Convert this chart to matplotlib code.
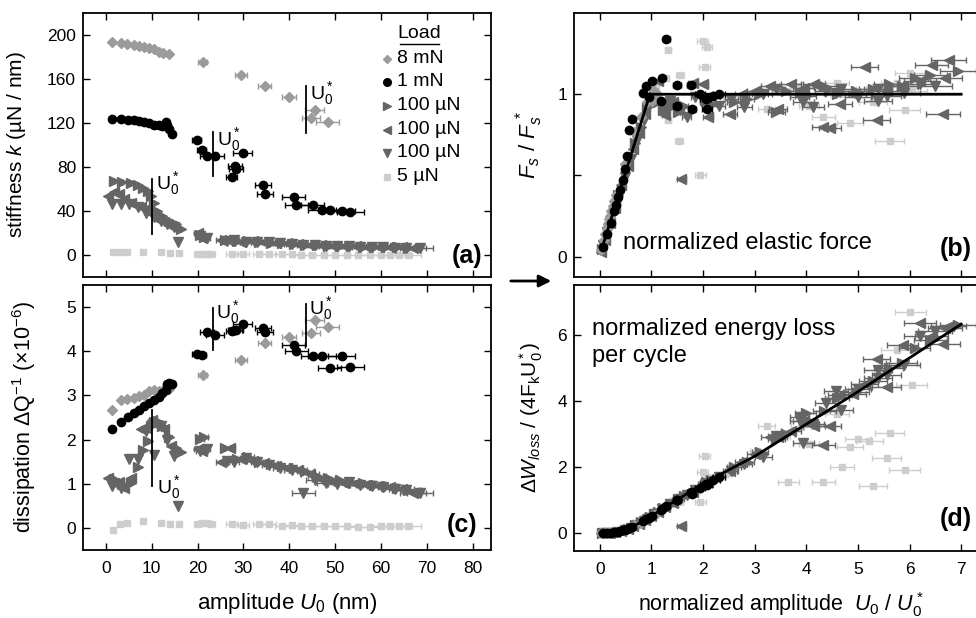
import matplotlib
matplotlib.use("Agg")
import matplotlib.pyplot as plt

plt.rcParams['font.family'] = ['Liberation Sans', 'DejaVu Sans']
plt.rcParams['mathtext.fontset'] = 'custom'
plt.rcParams['mathtext.rm'] = 'Liberation Sans'
plt.rcParams['mathtext.it'] = 'Liberation Sans:italic'
plt.rcParams['mathtext.bf'] = 'Liberation Sans:bold'

# ---------------- data: panels (a) and (c), amplitude U0 in nm ----------------
amp_8 = [1.3, 3.3, 4.7, 6.2, 7.2, 8.3, 9.4, 10.5, 11.6, 12.5, 13.8, 21.1, 29.5, 34.6, 40.0, 45.5, 44.7, 48.4]
k_8 = [193.7, 192.4, 191.8, 191.0, 190.3, 189.4, 188.5, 187.0, 184.9, 184.0, 182.5, 175.3, 163.2, 153.2, 143.3, 132.1, 124.3, 121.3]
q_8 = [2.66, 2.89, 2.91, 2.95, 2.98, 3.02, 3.10, 3.12, 3.10, 3.12, 3.15, 3.46, 3.81, 4.19, 4.33, 4.70, 4.42, 4.55]
e_8 = [0] * 11 + [1.0, 1.3, 1.5, 1.5, 2.0, 2.0, 2.5]

amp_1 = [1.3, 3.3, 4.8, 6.2, 7.2, 8.3, 9.4, 10.5, 11.5, 12.3, 13.0, 13.3, 13.8, 14.4, 19.8, 20.9, 22.1, 23.8, 29.8, 28.2,
         28.3, 27.5, 34.3, 34.7, 41.0, 41.5, 45.1, 47.1, 48.8, 51.4, 53.3]
k_1 = [123.7, 123.7, 123.0, 122.3, 121.5, 120.6, 119.7, 118.5, 118.0, 117.5, 121.0, 118.0, 114.3, 109.8, 104.3, 95.3,
       89.9, 89.9, 92.3, 80.8, 78.3, 71.2, 63.4, 55.2, 53.1, 45.3, 45.5, 40.7, 41.0, 40.4, 39.2]
q_1 = [2.23, 2.40, 2.52, 2.60, 2.67, 2.75, 2.83, 2.90, 2.97, 3.05, 3.12, 3.26, 3.27, 3.25, 3.93, 3.91, 4.43, 4.37, 4.61,
       4.47, 4.49, 4.45, 4.52, 4.43, 4.15, 4.01, 3.90, 3.90, 3.62, 3.89, 3.65]
e_1 = [0] * 14 + [1.0, 1.0, 1.5, 2.0, 2.0, 1.5, 1.5, 1.2, 1.8, 1.8, 2.5, 2.5, 2.5, 3.0, 2.5, 3.0, 3.0]

amp_R = [1.7, 3.6, 5.4, 6.9, 8.0, 9.1, 9.8, 10.5, 11.2, 12.3, 13.8, 15.2, 16.3, 20.5, 21.5, 26.0, 28.5, 31.0, 33.5, 36.0,
         38.5, 41.0, 43.5, 46.0, 48.5, 51.0, 53.5, 56.0, 58.5, 61.0, 63.5, 66.0]
k_R = [67.2, 66.7, 65.8, 63.3, 61.2, 58.2, 53.7, 47.7, 40.1, 35.6, 31.0, 28.0, 23.5, 18.0, 16.0, 13.5, 13.0, 12.5, 12.0,
       11.0, 10.5, 10.0, 9.5, 9.0, 8.5, 8.0, 8.0, 7.5, 7.5, 7.0, 7.0, 6.5]
q_R = [1.10, 1.00, 1.02, 1.39, 1.77, 1.96, 2.30, 2.40, 2.42, 2.30, 2.05, 1.80, 1.72, 2.02, 2.05, 1.80, 1.55, 1.60, 1.50,
       1.45, 1.40, 1.35, 1.28, 1.18, 1.12, 1.08, 1.05, 1.02, 0.98, 0.95, 0.90, 0.85]
e_R = [0] * 13 + [0.8, 0.8, 1.0, 1.2, 1.3, 1.4, 1.5, 1.6, 1.8, 1.8, 2.0, 2.0, 2.2, 2.2, 2.4, 2.4, 2.6, 2.6, 2.8]

amp_L = [0.4, 1.8, 2.9, 4.0, 5.4, 7.6, 8.7, 10.1, 11.2, 12.7, 14.1, 20.0, 21.0, 25.0, 27.0, 29.5, 32.0, 34.5, 37.0, 39.5,
         42.0, 44.5, 47.0, 49.5, 52.0, 54.5, 57.0, 59.5, 62.0, 64.5, 67.0]
k_L = [53.7, 57.3, 55.2, 50.7, 47.7, 43.2, 41.6, 37.0, 32.6, 29.6, 26.5, 20.0, 15.0, 14.0, 13.0, 12.0, 12.5, 11.5, 11.0,
       10.5, 10.0, 9.5, 9.0, 8.5, 8.5, 8.0, 7.5, 7.5, 7.0, 7.0, 6.0]
q_L = [1.13, 1.02, 1.05, 0.90, 1.13, 2.23, 2.26, 2.45, 2.34, 2.23, 1.85, 1.78, 1.75, 1.50, 1.80, 1.55, 1.52, 1.48, 1.40,
       1.35, 1.30, 1.22, 1.10, 1.05, 1.02, 1.00, 0.98, 0.95, 0.92, 0.88, 0.80]
e_L = [0] * 11 + [0.8, 0.8, 1.0, 1.1, 1.2, 1.3, 1.4, 1.5, 1.6, 1.8, 1.9, 2.0, 2.1, 2.2, 2.3, 2.4, 2.5, 2.6, 2.7, 2.8]

amp_D = [1.4, 3.3, 5.1, 6.9, 8.7, 10.5, 12.0, 13.4, 14.8, 15.8, 20.5, 22.0, 26.5, 28.0, 30.5, 33.0, 35.5, 38.0, 40.5,
         43.0, 45.5, 48.0, 50.5, 53.0, 55.5, 58.0, 60.5, 63.0, 65.5, 68.5]
k_D = [46.0, 46.0, 46.0, 43.2, 38.6, 34.1, 31.0, 28.0, 25.0, 12.0, 17.0, 15.0, 13.0, 13.5, 12.0, 12.0, 11.5, 10.5, 10.0,
       9.5, 9.0, 8.5, 8.5, 8.0, 7.5, 7.5, 7.0, 6.5, 6.5, 6.0]
q_D = [0.94, 0.90, 1.57, 1.55, 2.20, 1.64, 2.30, 2.00, 1.62, 0.50, 1.75, 1.78, 1.52, 1.50, 1.58, 1.50, 1.42, 1.35, 1.30,
       0.80, 1.08, 1.02, 1.00, 1.03, 0.98, 0.95, 0.92, 0.88, 0.85, 0.78]
e_D = [0] * 10 + [0.8, 0.8, 1.0, 1.1, 1.2, 1.3, 1.4, 1.5, 1.6, 2.5, 1.9, 2.0, 2.1, 2.2, 2.3, 2.4, 2.5, 2.6, 2.7, 2.9]

amp_5 = [1.5, 3.0, 4.5, 8.0, 12.0, 14.0, 16.0, 20.0, 21.0, 22.0, 23.0, 27.5, 30.0, 33.5, 35.5, 38.5, 40.5, 42.5, 45.0,
         47.5, 50.0, 52.5, 55.0, 57.5, 60.0, 62.0, 64.0, 66.0]
k_5 = [3.0, 3.0, 3.0, 2.5, 2.5, 2.0, 2.0, 1.0, 1.0, 1.0, 1.0, 0.8, 0.8, 0.8, 0.5, 0.5, 0.5, 0.4, 0.4, 0.3, 0.3, 0.3,
       0.3, 0.3, 0.3, 0.3, 0.3, 0.3]
q_5 = [-0.05, 0.10, 0.12, 0.15, 0.12, 0.10, 0.08, 0.10, 0.12, 0.11, 0.10, 0.08, 0.07, 0.08, 0.08, 0.05, 0.06, 0.05,
       0.05, 0.04, 0.04, 0.04, 0.03, 0.03, 0.04, 0.04, 0.05, 0.05]
e_5 = [0] * 7 + [0.8, 0.8, 0.8, 0.8, 1.2, 1.2, 1.4, 1.5, 1.6, 1.7, 1.8, 1.9, 2.0, 2.1, 2.2, 2.3, 2.4, 2.5, 2.6, 2.7, 2.8]

# U0* markers: (x, y_low, y_high) and label positions
ustar_a = [(10.0, 19, 69), (23.3, 72, 112), (43.7, 111, 154)]
ustar_a_lab = [(11.0, 60), (24.3, 100), (44.6, 142)]
ustar_c = [(10.0, 0.94, 2.68), (23.3, 4.03, 4.97), (43.7, 4.12, 5.08)]
ustar_c_lab = [(11.2, 0.78), (24.0, 4.75), (44.4, 4.85)]

# ---------------- data: panels (b) and (d), normalized amplitude ----------------
u8 = [0.03, 0.08, 0.11, 0.13, 0.16, 0.18, 0.20, 0.22, 0.25, 0.27, 0.31, 0.48, 0.67, 0.79, 0.92, 1.04, 1.02, 1.11]
F8 = [0.04, 0.10, 0.14, 0.17, 0.20, 0.23, 0.25, 0.28, 0.31, 0.34, 0.38, 0.57, 0.77, 0.86, 0.95, 1.02, 0.96, 1.00]
W8 = [0.00, 0.00, 0.00, 0.01, 0.01, 0.01, 0.02, 0.02, 0.03, 0.03, 0.04, 0.10, 0.24, 0.33, 0.45, 0.56, 0.53, 0.63]
eu8 = [0] * 11 + [0.02, 0.03, 0.03, 0.04, 0.05, 0.05, 0.06]

u1 = [0.06, 0.14, 0.21, 0.27, 0.31, 0.36, 0.40, 0.45, 0.49, 0.53, 0.57, 0.62, 0.84, 0.90, 0.95, 1.02, 1.18, 1.21, 1.29,
      1.50, 1.50, 1.77, 1.78, 1.94, 2.05, 2.07, 2.20, 2.31]
F1 = [0.06, 0.14, 0.21, 0.28, 0.32, 0.37, 0.41, 0.47, 0.54, 0.62, 0.78, 0.85, 1.01, 1.05, 0.98, 1.08, 0.96, 1.10, 1.34,
      1.055, 0.93, 1.055, 0.91, 1.00, 0.97, 0.91, 0.99, 1.00]
W1 = [0.00, 0.01, 0.02, 0.03, 0.04, 0.05, 0.07, 0.09, 0.11, 0.13, 0.16, 0.20, 0.38, 0.44, 0.48, 0.54, 0.72, 0.74, 0.82,
      1.02, 1.00, 1.25, 1.20, 1.38, 1.50, 1.45, 1.60, 1.70]
eu1 = [0.02] * 12 + [0.04, 0.04, 0.05, 0.05, 0.06, 0.06, 0.06, 0.08, 0.08, 0.08, 0.08, 0.1, 0.1, 0.1, 0.12, 0.12]

uR = [0.04, 0.17, 0.36, 0.54, 0.69, 0.80, 0.91, 0.98, 1.05, 1.12, 1.23, 1.38, 1.52, 1.63, 2.05, 2.15, 2.60, 2.85, 3.10,
      3.42, 3.60, 3.99, 4.35, 4.60, 4.97, 5.30, 5.60, 5.85, 6.10, 6.40, 6.94]
FR = [0.05, 0.18, 0.38, 0.55, 0.70, 0.80, 0.92, 0.97, 1.02, 0.95, 0.90, 0.92, 0.89, 0.93, 0.96, 0.94, 0.95, 0.97, 1.00,
      0.89, 1.02, 0.99, 1.05, 1.00, 1.02, 1.03, 1.06, 1.05, 1.10, 1.12, 1.14]
WR = [0.00, 0.01, 0.05, 0.14, 0.25, 0.34, 0.44, 0.50, 0.58, 0.66, 0.78, 0.90, 1.05, 1.12, 1.55, 1.62, 2.00, 2.17, 2.45,
      2.85, 3.00, 3.63, 3.70, 4.10, 4.28, 4.60, 5.00, 5.15, 5.60, 5.85, 6.28]
euR = [0] * 8 + [0.05, 0.05, 0.06, 0.07, 0.08, 0.08, 0.1, 0.1, 0.13, 0.14, 0.16, 0.17, 0.18, 0.2, 0.22, 0.23, 0.25,
                 0.27, 0.28, 0.3, 0.3, 0.32, 0.35]

uL = [0.03, 0.10, 0.20, 0.30, 0.42, 0.55, 0.65, 0.76, 0.87, 1.00, 1.12, 1.26, 1.41, 1.58, 1.80, 2.00, 2.10, 2.52, 2.75,
      3.00, 3.30, 3.45, 3.70, 3.95, 4.15, 4.33, 4.46, 4.65, 4.90, 5.13, 5.36, 5.56, 5.87, 6.20, 6.43, 6.64, 6.69, 6.76]
FL = [0.03, 0.10, 0.21, 0.30, 0.44, 0.56, 0.66, 0.76, 0.88, 0.97, 1.08, 0.87, 0.95, 0.48, 1.07, 1.06, 0.86, 0.88, 1.00,
      1.02, 1.05, 0.91, 1.06, 1.04, 1.06, 0.80, 0.79, 0.94, 1.00, 1.17, 0.84, 1.02, 1.05, 1.08, 1.18, 0.88, 1.10, 1.21]
WL = [0.00, 0.00, 0.02, 0.04, 0.08, 0.14, 0.22, 0.30, 0.40, 0.52, 0.66, 0.80, 0.92, 0.22, 1.25, 1.48, 1.55, 1.90, 2.15,
      2.40, 2.92, 2.90, 3.10, 3.40, 3.23, 2.67, 3.23, 4.18, 4.20, 4.50, 5.26, 4.43, 5.69, 6.35, 5.95, 5.73, 6.20, 6.25]
euL = [0] * 9 + [0.05, 0.05, 0.06, 0.07, 0.08, 0.09, 0.1, 0.1, 0.13, 0.14, 0.15, 0.17, 0.17, 0.19, 0.2, 0.21, 0.22,
                 0.22, 0.23, 0.25, 0.26, 0.27, 0.28, 0.3, 0.31, 0.32, 0.33, 0.33, 0.34]

uD = [0.06, 0.14, 0.25, 0.33, 0.48, 0.60, 0.72, 0.85, 0.95, 1.05, 1.20, 1.35, 1.55, 1.68, 1.85, 2.05, 2.30, 2.55, 2.80,
      3.17, 3.42, 3.87, 3.87, 3.94, 4.13, 4.39, 4.58, 4.68, 5.00, 5.39, 5.39, 5.56, 5.90, 6.20, 6.50]
FD = [0.07, 0.15, 0.26, 0.33, 0.49, 0.60, 0.72, 0.84, 0.93, 0.98, 0.92, 0.96, 0.90, 0.86, 0.98, 0.95, 0.93, 0.97, 0.92,
      1.00, 1.03, 1.00, 0.98, 0.95, 0.92, 1.02, 1.01, 1.03, 0.98, 0.96, 1.03, 0.99, 1.01, 1.06, 1.05]
WD = [0.00, 0.01, 0.02, 0.04, 0.10, 0.17, 0.26, 0.38, 0.48, 0.58, 0.74, 0.88, 1.05, 1.15, 1.32, 1.50, 1.70, 1.90, 2.10,
      2.32, 2.94, 3.38, 3.53, 2.74, 3.30, 3.95, 4.30, 3.73, 4.35, 4.94, 4.69, 4.79, 5.10, 5.95, 6.10]
euD = [0] * 9 + [0.05, 0.06, 0.07, 0.08, 0.08, 0.09, 0.1, 0.12, 0.13, 0.14, 0.16, 0.17, 0.19, 0.19, 0.2, 0.21, 0.22,
                 0.23, 0.23, 0.25, 0.27, 0.27, 0.28, 0.3, 0.31, 0.33]

u5 = [0.14, 0.27, 0.41, 0.73, 1.09, 1.28, 1.32, 1.32, 1.45, 1.55, 1.54, 1.95, 1.99, 2.03, 2.07, 2.45, 2.75, 3.05, 3.23,
      3.50, 3.65, 3.90, 4.05, 4.33, 4.60, 4.69, 4.85, 5.00, 5.22, 5.29, 5.56, 5.62, 5.75, 5.91, 6.01, 6.04]
F5 = [0.16, 0.30, 0.44, 0.75, 1.05, 1.10, 1.27, 0.84, 0.95, 1.12, 0.71, 0.50, 1.33, 1.17, 1.29, 0.98, 0.99, 1.01, 0.91,
      1.03, 1.02, 1.05, 0.93, 0.86, 1.07, 1.00, 0.82, 1.02, 1.03, 0.95, 1.05, 0.71, 1.07, 0.90, 1.13, 1.02]
W5 = [0.01, 0.03, 0.06, 0.30, 0.65, 0.80, 0.95, 0.90, 1.00, 1.10, 0.95, 0.95, 1.85, 2.35, 1.70, 1.80, 2.10, 2.50, 3.23,
      2.90, 1.56, 3.20, 2.70, 1.54, 3.60, 2.02, 2.62, 2.84, 2.80, 1.43, 2.29, 3.04, 5.55, 1.93, 6.70, 4.47]
eu5 = [0, 0, 0, 0.03, 0.05, 0.06, 0.06, 0.06, 0.07, 0.08, 0.08, 0.1, 0.1, 0.1, 0.1, 0.12, 0.14, 0.15, 0.16, 0.18, 0.2,
       0.2, 0.2, 0.22, 0.23, 0.23, 0.25, 0.25, 0.26, 0.27, 0.28, 0.28, 0.3, 0.3, 0.3, 0.3]

model_b_u = [0.04, 0.97, 7.0]
model_b_F = [0.05, 1.0, 1.0]
model_d_u = [0.0, 0.25, 0.5, 0.75, 1.0, 1.25, 1.5, 2.0, 2.5, 3.0, 4.0, 5.0, 6.0, 7.0]
model_d_W = [0.0, 0.02, 0.12, 0.30, 0.52, 0.78, 1.02, 1.50, 1.92, 2.33, 3.30, 4.28, 5.30, 6.32]

legend_labels = ['8 mN', '1 mN', '100 µN', '100 µN', '100 µN', '5 µN']

# ---------------- styles ----------------
C8, C1, C100, C5 = '#9b9b9b', '#000000', '#656565', '#cdcdcd'
sty = {
    '8': dict(fmt='D', ms=5.0, color=C8),
    '1': dict(fmt='o', ms=6.0, color=C1),
    'R': dict(fmt='>', ms=6.5, color=C100),
    'L': dict(fmt='<', ms=6.5, color=C100),
    'D': dict(fmt='v', ms=6.5, color=C100),
    '5': dict(fmt='s', ms=5.0, color=C5),
}


def series(ax, x, y, e, key, z):
    s = sty[key]
    ax.errorbar(x, y, xerr=e, fmt=s['fmt'], ms=s['ms'], color=s['color'], mec=s['color'],
                ecolor=s['color'], elinewidth=1.0, capsize=2.5, capthick=1.0, zorder=z)


fig = plt.figure(figsize=(9.76, 6.18), dpi=100)
W_, H_ = 976.0, 618.0


def axes_px(l, t, r, b):
    return fig.add_axes([l / W_, 1 - b / H_, (r - l) / W_, (b - t) / H_])


axa = axes_px(83, 13, 491, 277)
axc = axes_px(83, 285, 491, 550)
axb = axes_px(574, 13, 987, 277)
axd = axes_px(574, 285, 987, 551)

for ax in (axa, axb, axc, axd):
    ax.tick_params(direction='in', length=5, width=1, top=True, right=True, labelsize=12.5)
    ax.tick_params(axis='y', pad=5)
    ax.tick_params(axis='x', pad=8)
    for sp in ax.spines.values():
        sp.set_linewidth(1.3)

# panel (a)
series(axa, amp_5, k_5, e_5, '5', 2)
series(axa, amp_D, k_D, e_D, 'D', 3)
series(axa, amp_L, k_L, e_L, 'L', 3)
series(axa, amp_R, k_R, e_R, 'R', 3)
series(axa, amp_8, k_8, e_8, '8', 4)
series(axa, amp_1, k_1, e_1, '1', 5)
for (x, y0, y1), (lx, ly) in zip(ustar_a, ustar_a_lab):
    axa.plot([x, x], [y0, y1], color='black', lw=1.3, zorder=6)
    axa.text(lx, ly, r'U$_0^*$', fontsize=14, zorder=6)
axa.set_xlim(-5, 84)
axa.set_ylim(-20, 220)
axa.set_xticks(range(0, 90, 10))
axa.set_xticklabels([])
axa.set_yticks(range(0, 201, 40))
axa.set_ylabel(r'stiffness $\mathit{k}$ (µN / nm)', fontsize=15)
axa.yaxis.set_label_coords(-0.135, 0.5)
axa.text(0.978, 0.08, '(a)', transform=axa.transAxes, ha='right', va='center', fontsize=18, fontweight='bold')

# legend (drawn by hand in axes coordinates)
leg_keys = ['8', '1', 'R', 'L', 'D', '5']
leg_y = [0.826, 0.739, 0.648, 0.557, 0.470, 0.379]
for key, lab, yy in zip(leg_keys, legend_labels, leg_y):
    s = sty[key]
    axa.plot([0.746], [yy], linestyle='none', marker=s['fmt'], ms=s['ms'] - 0.5, color=s['color'],
             transform=axa.transAxes, clip_on=False)
    axa.text(0.77, yy, lab, transform=axa.transAxes, va='center', ha='left', fontsize=14)
axa.text(0.825, 0.924, 'Load', transform=axa.transAxes, ha='center', va='center', fontsize=14)
axa.plot([0.777, 0.873], [0.882, 0.882], color='black', lw=1.0, transform=axa.transAxes)

# panel (c)
series(axc, amp_5, q_5, e_5, '5', 2)
series(axc, amp_D, q_D, e_D, 'D', 3)
series(axc, amp_L, q_L, e_L, 'L', 3)
series(axc, amp_R, q_R, e_R, 'R', 3)
series(axc, amp_8, q_8, e_8, '8', 4)
series(axc, amp_1, q_1, e_1, '1', 5)
for (x, y0, y1), (lx, ly) in zip(ustar_c, ustar_c_lab):
    axc.plot([x, x], [y0, y1], color='black', lw=1.3, zorder=6)
    axc.text(lx, ly, r'U$_0^*$', fontsize=14, zorder=6)
axc.set_xlim(-5, 84)
axc.set_ylim(-0.5, 5.5)
axc.set_xticks(range(0, 90, 10))
axc.set_yticks(range(0, 6))
axc.set_xlabel(r'amplitude $\mathit{U_0}$ (nm)', fontsize=16, labelpad=11)
axc.set_ylabel(r'dissipation $\mathit{\Delta}$Q$^{-1}$ (×10$^{-6}$)', fontsize=15.5)
axc.yaxis.set_label_coords(-0.11, 0.5)
axc.text(0.966, 0.094, '(c)', transform=axc.transAxes, ha='right', va='center', fontsize=18, fontweight='bold')

# panel (b)
series(axb, u5, F5, eu5, '5', 2)
series(axb, uD, FD, euD, 'D', 3)
series(axb, uL, FL, euL, 'L', 3)
series(axb, uR, FR, euR, 'R', 3)
series(axb, u8, F8, eu8, '8', 4)
series(axb, u1, F1, eu1, '1', 5)
axb.plot(model_b_u, model_b_F, color='black', lw=2.0, zorder=6)
axb.set_xlim(-0.5, 7.5)
axb.set_ylim(-0.125, 1.5)
axb.set_xticks(range(0, 8))
axb.set_xticklabels([])
axb.set_yticks([0, 0.5, 1.0])
axb.set_yticklabels(['0', '', '1'])
axb.set_ylabel(r'$\mathit{F_s\ /\ F_s^{\,*}}$', fontsize=16)
axb.yaxis.set_label_coords(-0.07, 0.5)
axb.text(0.45, 0.084, 'normalized elastic force', fontsize=17, va='center', ha='left')
axb.text(7.2, 0.05, '(b)', ha='right', va='center', fontsize=18, fontweight='bold')

# panel (d)
series(axd, u5, W5, eu5, '5', 2)
series(axd, uD, WD, euD, 'D', 3)
series(axd, uL, WL, euL, 'L', 3)
series(axd, uR, WR, euR, 'R', 3)
series(axd, u8, W8, eu8, '8', 4)
series(axd, u1, W1, eu1, '1', 5)
axd.plot(model_d_u, model_d_W, color='black', lw=2.0, zorder=6)
axd.set_xlim(-0.5, 7.5)
axd.set_ylim(-0.53, 7.5)
axd.set_xticks(range(0, 8))
axd.set_yticks([0, 2, 4, 6])
axd.set_xlabel(r'normalized amplitude  $\mathit{U_0\ /\ U_0^*}$', fontsize=15.5, labelpad=9)
axd.set_ylabel(r'$\mathit{\Delta W_{loss}}$ / (4F$_\mathrm{k}$U$_0^*$)', fontsize=15)
axd.yaxis.set_label_coords(-0.07, 0.5)
axd.text(-0.16, 6.5, 'normalized energy loss\nper cycle', fontsize=17, va='top', ha='left', linespacing=1.3)
axd.text(7.2, 0.43, '(d)', ha='right', va='center', fontsize=18, fontweight='bold')

# arrow between the panels
fig.add_artist(matplotlib.patches.FancyArrowPatch((508 / W_, 1 - 281 / H_), (554 / W_, 1 - 281 / H_),
                                                  transform=fig.transFigure, arrowstyle='-|>',
                                                  mutation_scale=18, lw=2, color='black'))

fig.savefig('out.png', dpi=100)
